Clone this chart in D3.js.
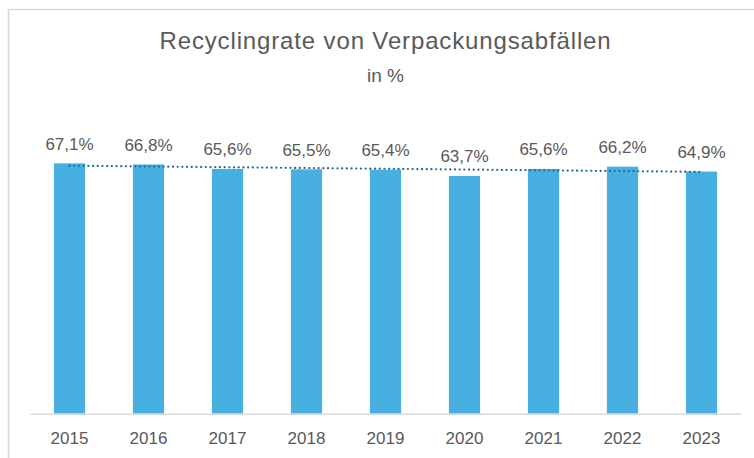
<!DOCTYPE html>
<html>
<head>
<meta charset="utf-8">
<script src="https://cdn.jsdelivr.net/npm/d3@7"></script>
<style>
  html, body { margin: 0; padding: 0; background: #fff; }
  svg { display: block; }
</style>
</head>
<body>
<svg id="chart" width="754" height="458"></svg>
<script>
const years = ["2015", "2016", "2017", "2018", "2019", "2020", "2021", "2022", "2023"];
const rates = [67.1, 66.8, 65.6, 65.5, 65.4, 63.7, 65.6, 66.2, 64.9];
const titleText = "Recyclingrate von Verpackungsabfällen";
const subtitleText = "in %";

const W = 754, H = 458;
const svg = d3.select("#chart");
const font = "'Liberation Sans', Arial, sans-serif";
const textColor = "#595959";

// chart frame
svg.append("rect")
  .attr("x", 8.5).attr("y", 9.5)
  .attr("width", 800).attr("height", 500)
  .attr("fill", "#fff")
  .attr("stroke", "#d9d9d9").attr("stroke-width", 1.5);

const plot = { left: 30, right: 741, top: 115.2, bottom: 413.7 };

const x = d3.scaleBand()
  .domain(years)
  .range([plot.left, plot.right])
  .paddingInner(0.605)
  .paddingOuter(0.3025);

const y = d3.scaleLinear()
  .domain([0, 80])
  .range([plot.bottom, plot.top]);

// bars
svg.append("g").selectAll("rect")
  .data(rates)
  .join("rect")
  .attr("x", (d, i) => x(years[i]))
  .attr("y", d => y(d))
  .attr("width", x.bandwidth())
  .attr("height", d => y(0) - y(d))
  .attr("fill", "#47B0E1");

// baseline axis
const xAxis = d3.axisBottom(x).tickSize(0).tickPadding(0);
const gx = svg.append("g")
  .attr("transform", `translate(0,${plot.bottom})`)
  .call(xAxis);
gx.select(".domain").attr("stroke", "#d9d9d9").attr("stroke-width", 1.5);
gx.selectAll(".tick text")
  .attr("y", 30.3)
  .attr("dy", 0)
  .attr("fill", textColor)
  .style("font-family", font)
  .style("font-size", "17px");

// linear trendline (least squares)
const n = rates.length;
const idx = d3.range(n);
const mx = d3.mean(idx), my = d3.mean(rates);
const slope = d3.sum(idx, i => (i - mx) * (rates[i] - my)) / d3.sum(idx, i => (i - mx) ** 2);
const intercept = my - slope * mx;
const trendPts = [0, n - 1].map(i => [x(years[i]) + x.bandwidth() / 2, y(intercept + slope * i)]);
svg.append("path")
  .attr("d", d3.line()(trendPts))
  .attr("fill", "none")
  .attr("stroke", "#1E6B96")
  .attr("stroke-width", 2.2)
  .attr("stroke-linecap", "round")
  .attr("stroke-dasharray", "0.1 4.6");

// data labels
svg.append("g").selectAll("text")
  .data(rates)
  .join("text")
  .attr("x", (d, i) => x(years[i]) + x.bandwidth() / 2)
  .attr("y", d => y(d) - 13.6)
  .attr("text-anchor", "middle")
  .attr("fill", textColor)
  .style("font-family", font)
  .style("font-size", "17px")
  .text(d => d.toFixed(1).replace(".", ",") + "%");

// title
const cx = (plot.left + plot.right) / 2;
const title = svg.append("text")
  .attr("x", cx).attr("y", 49.3)
  .attr("text-anchor", "middle")
  .attr("fill", textColor)
  .style("font-family", font)
  .style("font-size", "24px")
  .text(titleText);
const tl = title.node().getComputedTextLength();
const targetW = 452;
title.style("letter-spacing", ((targetW - tl) / titleText.length) + "px");

svg.append("text")
  .attr("x", cx).attr("y", 81.7)
  .attr("text-anchor", "middle")
  .attr("fill", textColor)
  .style("font-family", font)
  .style("font-size", "19px")
  .text(subtitleText);
</script>
</body>
</html>
